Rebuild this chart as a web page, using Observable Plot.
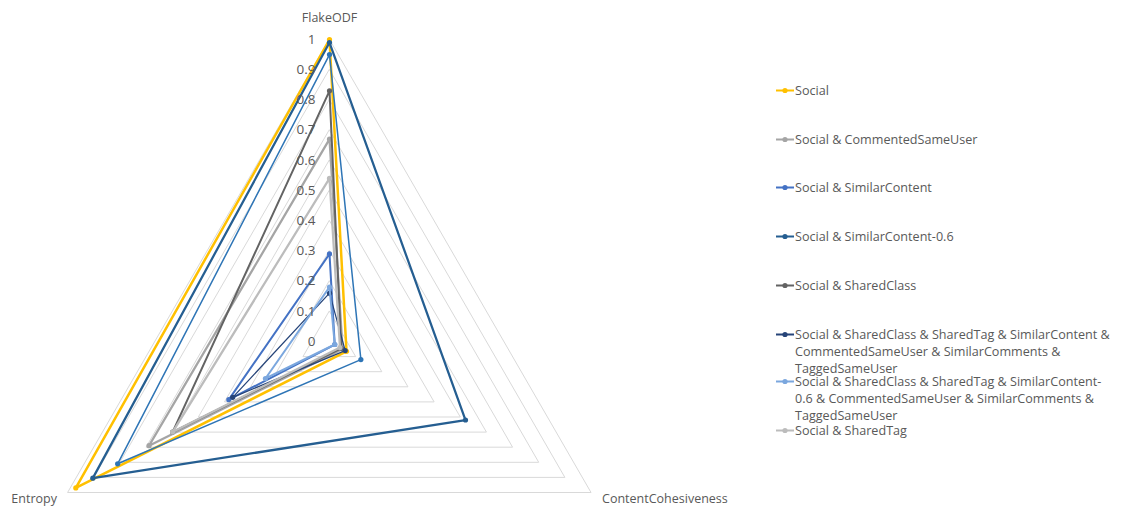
<!DOCTYPE html>
<html>
<head>
<meta charset="utf-8">
<script src="https://cdn.jsdelivr.net/npm/d3@7"></script>
<script src="https://cdn.jsdelivr.net/npm/@observablehq/plot@0.6"></script>
<style>
  html, body { margin: 0; padding: 0; background: #fff; }
  #wrap { position: relative; width: 1134px; height: 509px; font-family: "Open Sans", sans-serif; }
  #legend { position: absolute; left: 776px; top: 0; width: 358px; }
  .entry { position: absolute; left: 0; display: flex; align-items: flex-start; font-size: 12.6px; line-height: 17px; color: #595959; }
  .entry svg { flex: none; margin-top: 4px; }
  .entry span { width: 323px; }
</style>
</head>
<body>
<div id="wrap"></div>
<script>
// Radar axes, clockwise from the top
const axisNames = ["FlakeODF", "ContentCohesiveness", "Entropy"];
const axisAngles = [90, -30, 210];

// Radial tick values and their labels
const tickValues = [0, 0.1, 0.2, 0.3, 0.4, 0.5, 0.6, 0.7, 0.8, 0.9, 1];
const tickLabels = ["0", "0.1", "0.2", "0.3", "0.4", "0.5", "0.6", "0.7", "0.8", "0.9", "1"];

// Series names (legend order) and colours
const seriesNames = [
  "Social",
  "Social & CommentedSameUser",
  "Social & SimilarContent",
  "Social & SimilarContent-0.6",
  "Social & SharedClass",
  "Social & SharedClass & SharedTag & SimilarContent & CommentedSameUser & SimilarComments & TaggedSameUser",
  "Social & SharedClass & SharedTag & SimilarContent-0.6 & CommentedSameUser & SimilarComments & TaggedSameUser",
  "Social & SharedTag",
  "Social & SimilarComments"
];
const seriesColors = ["#FFC000", "#A5A5A5", "#4472C4", "#255E91", "#636363", "#264478", "#7BA7DE", "#BCBCBC", "#2E75B6"];
const seriesWidths = [2.5, 2.25, 2, 2.25, 2, 1.25, 2, 2.25, 1.5];
const legendCount = 8;

// Values per axis, one entry per series
const flakeODF            = [1.00, 0.67, 0.29,  0.99, 0.83,  0.16, 0.18,  0.54, 0.95];
const contentCohesiveness = [0.065, 0.05, 0.02, 0.52, 0.045, 0.06, 0.02,  0.04, 0.12];
const entropy             = [0.97, 0.69, 0.385, 0.905, 0.60, 0.37, 0.245, 0.60, 0.81];

const W = 1134, H = 509;
const cx = 329, cy = 341, R = 302;   // layout of the radar within the frame

const valuesByAxis = [flakeODF, contentCohesiveness, entropy];
const polar = (k, v) => {
  const a = axisAngles[k] * Math.PI / 180;
  return {x: v * Math.cos(a), y: v * Math.sin(a)};
};

// Triangular gridlines
const gridRows = tickValues.slice(1).flatMap(level =>
  axisNames.map((_, k) => ({level, ...polar(k, level)})));

// Series vertices
const seriesRows = seriesNames.map((name, i) =>
  axisNames.map((axis, k) => ({name, axis, value: valuesByAxis[k][i], ...polar(k, valuesByAxis[k][i])})));

const tickRows = tickValues.map((v, i) => ({v, label: tickLabels[i]}));
const axisRows = axisNames.map((name, k) => ({name, ...polar(k, 1)}));

const textFont = "'Open Sans', sans-serif";

const marks = [
  Plot.line(gridRows, {x: "x", y: "y", z: "level", curve: "linear-closed", stroke: "#D9D9D9", strokeWidth: 1}),
  ...seriesRows.flatMap((rows, i) => [
    Plot.line(rows, {x: "x", y: "y", curve: "linear-closed", stroke: seriesColors[i], strokeWidth: seriesWidths[i], strokeLinejoin: "round"}),
    Plot.dot(rows, {x: "x", y: "y", r: 2.6, fill: seriesColors[i], stroke: "none"})
  ]),
  Plot.text(tickRows, {x: () => 0, y: "v", text: "label", textAnchor: "end", dx: -14, fill: "#595959", fontSize: 13.5, fontFamily: textFont}),
  Plot.text([axisRows[0]], {x: "x", y: "y", text: "name", dy: -22, fill: "#595959", fontSize: 12.5, fontFamily: textFont}),
  Plot.text([axisRows[1]], {x: "x", y: "y", text: "name", textAnchor: "start", dx: 11, dy: 6, fill: "#595959", fontSize: 12.5, fontFamily: textFont}),
  Plot.text([axisRows[2]], {x: "x", y: "y", text: "name", textAnchor: "end", dx: -11, dy: 6, fill: "#595959", fontSize: 12.5, fontFamily: textFont})
];

const chart = Plot.plot({
  width: W,
  height: H,
  margin: 0,
  x: {domain: [-cx / R, (W - cx) / R], range: [0, W], axis: null},
  y: {domain: [-(H - cy) / R, cy / R], range: [H, 0], axis: null},
  style: {background: "#fff", overflow: "visible"},
  marks
});

const wrap = document.getElementById("wrap");
wrap.appendChild(chart);

// Legend: line-and-marker swatch beside each series name
const legendTops = [90, 139, 187, 236, 285, 334, 381, 430];
const legend = document.createElement("div");
legend.id = "legend";
seriesNames.slice(0, legendCount).forEach((name, i) => {
  const entry = document.createElement("div");
  entry.className = "entry";
  entry.style.top = (legendTops[i] - 8.5) + "px";
  const sw = d3.create("svg").attr("width", 19).attr("height", 9);
  sw.append("line").attr("x1", 0).attr("x2", 18).attr("y1", 4.5).attr("y2", 4.5)
    .attr("stroke", seriesColors[i]).attr("stroke-width", 2);
  sw.append("circle").attr("cx", 9).attr("cy", 4.5).attr("r", 2.6).attr("fill", seriesColors[i]);
  entry.appendChild(sw.node());
  const label = document.createElement("span");
  label.textContent = name;
  entry.appendChild(label);
  legend.appendChild(entry);
});
wrap.appendChild(legend);
</script>
</body>
</html>
